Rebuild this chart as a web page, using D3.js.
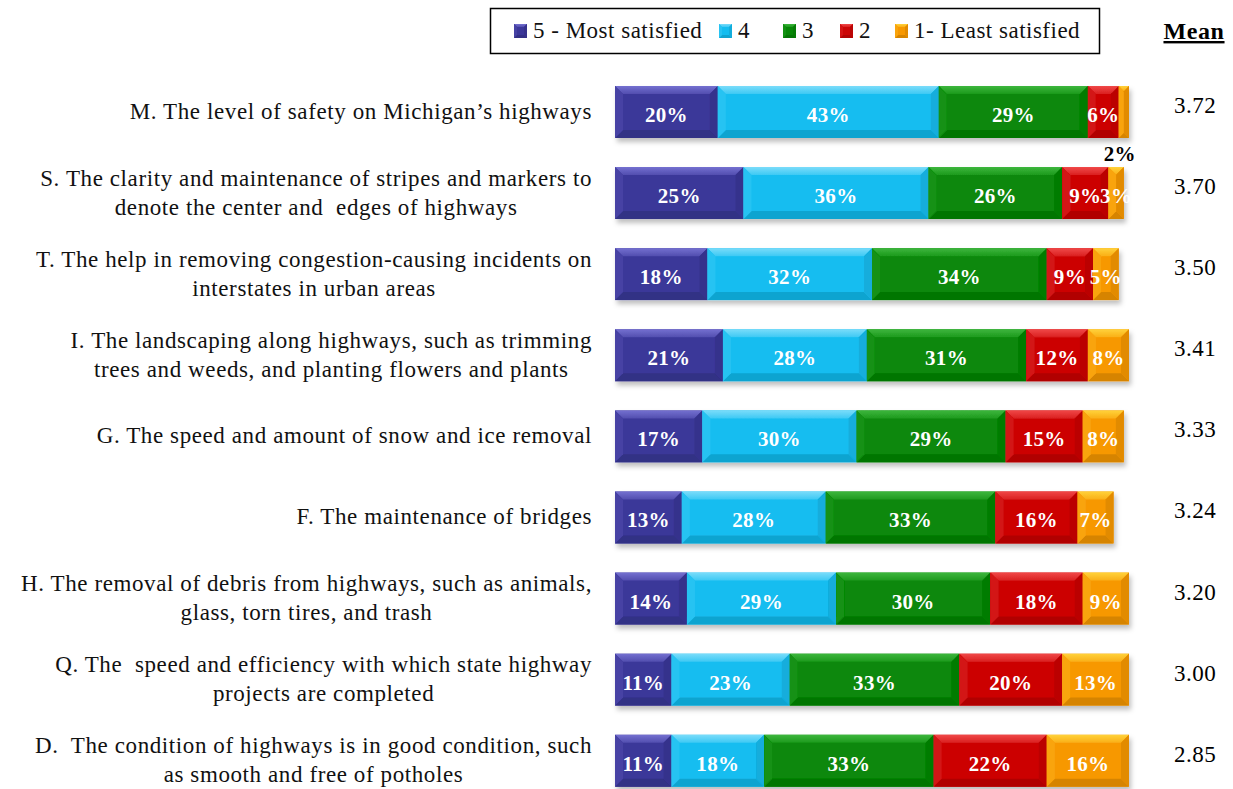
<!DOCTYPE html>
<html>
<head>
<meta charset="utf-8">
<script src="https://cdn.jsdelivr.net/npm/d3@7"></script>
<style>
  body { margin: 0; background: #ffffff; }
  svg { display: block; }
</style>
</head>
<body>
<svg id="chart" width="1233" height="789"></svg>
<script>
// Survey items (line breaks mark where each label wraps)
const categories = [
  "M. The level of safety on Michigan\u2019s highways",
  "S. The clarity and maintenance of stripes and markers to\ndenote the center and  edges of highways",
  "T. The help in removing congestion-causing incidents on\ninterstates in urban areas",
  "I. The landscaping along highways, such as trimming\ntrees and weeds, and planting flowers and plants",
  "G. The speed and amount of snow and ice removal",
  "F. The maintenance of bridges",
  "H. The removal of debris from highways, such as animals,\nglass, torn tires, and trash",
  "Q. The  speed and efficiency with which state highway\nprojects are completed",
  "D.  The condition of highways is in good condition, such\nas smooth and free of potholes"
];

// Percent of respondents at each satisfaction level
const mostSatisfied5  = [20, 25, 18, 21, 17, 13, 14, 11, 11];
const level4          = [43, 36, 32, 28, 30, 28, 29, 23, 18];
const level3          = [29, 26, 34, 31, 29, 33, 30, 33, 33];
const level2          = [ 6,  9,  9, 12, 15, 16, 18, 20, 22];
const leastSatisfied1 = [ 2,  3,  5,  8,  8,  7,  9, 13, 16];

const means = ["3.72", "3.70", "3.50", "3.41", "3.33", "3.24", "3.20", "3.00", "2.85"];

const seriesNames = ["5 - Most satisfied", "4", "3", "2", "1- Least satisfied"];
const seriesValues = [mostSatisfied5, level4, level3, level2, leastSatisfied1];
const seriesColors = ["#3b3799", "#14bdf0", "#078807", "#cc0606", "#f79800"];
const seriesTopColors = ["#7470d0", "#7adcfa", "#3db63d", "#f04848", "#ffd23a"];

const svg = d3.select("#chart");
const serif = "'Liberation Serif', 'DejaVu Serif', serif";

// Build per-row stacks
const rows = categories.map((c, i) => {
  let acc = 0;
  const segs = seriesValues.map((vals, k) => {
    const s = { k, v: vals[i], x0: acc, x1: acc + vals[i] };
    acc += vals[i];
    return s;
  });
  return { cat: c, i, segs };
});

const x = d3.scaleLinear().domain([0, 100]).range([615, 1129]);
const y = d3.scaleBand().domain(categories).range([71.4, 801.3])
  .paddingInner(0.36).paddingOuter(0.18);

// Drop shadow for the bars
const defs = svg.append("defs");
const f = defs.append("filter").attr("id", "shadow")
  .attr("x", "-5%").attr("y", "-20%").attr("width", "110%").attr("height", "150%");
f.append("feDropShadow").attr("dx", 2).attr("dy", 4).attr("stdDeviation", 2.5)
  .attr("flood-color", "#000").attr("flood-opacity", 0.25);

seriesColors.forEach((c, k) => {
  const g = defs.append("linearGradient").attr("id", "top" + k)
    .attr("x1", 0).attr("y1", 0).attr("x2", 0).attr("y2", 1);
  g.append("stop").attr("offset", 0).attr("stop-color", seriesTopColors[k]);
  g.append("stop").attr("offset", 1).attr("stop-color", d3.interpolateRgb(seriesTopColors[k], c)(0.6));
});

// Draws one beveled block
function bevelBlock(sel, x0, y0, x1, y1, k, bev) {
  const base = seriesColors[k];
  const w = x1 - x0, h = y1 - y0;
  const b = Math.min(bev, w / 2, h / 2);
  sel.append("rect").attr("x", x0).attr("y", y0).attr("width", w).attr("height", h).attr("fill", base);
  const poly = (pts, fill) => sel.append("polygon")
    .attr("points", pts.map(p => p.join(",")).join(" ")).attr("fill", fill);
  poly([[x0, y0], [x1, y0], [x1 - b, y0 + b], [x0 + b, y0 + b]], `url(#top${k})`);
  poly([[x0, y1], [x1, y1], [x1 - b, y1 - b], [x0 + b, y1 - b]], d3.color(base).darker(0.4));
  poly([[x0, y0], [x0 + b, y0 + b], [x0 + b, y1 - b], [x0, y1]], d3.interpolateRgb(base, seriesTopColors[k])(0.2));
  poly([[x1, y0], [x1 - b, y0 + b], [x1 - b, y1 - b], [x1, y1]], d3.color(base).darker(0.25));
}

// Bars
const barG = svg.append("g");
rows.forEach(r => {
  const g = barG.append("g").attr("filter", "url(#shadow)");
  const y0 = y(r.cat), y1 = y0 + y.bandwidth();
  r.segs.forEach(s => {
    bevelBlock(g, x(s.x0), y0, x(s.x1), y1, s.k, 8);
  });
});

// Value labels
const labG = svg.append("g").attr("font-family", serif).attr("font-weight", "bold")
  .attr("font-size", 21).attr("letter-spacing", 0.3).attr("text-anchor", "middle");
rows.forEach(r => {
  const cy = y(r.cat) + y.bandwidth() / 2;
  r.segs.forEach(s => {
    const cx = (x(s.x0) + x(s.x1)) / 2;
    const narrow = (x(s.x1) - x(s.x0)) < 14;
    labG.append("text")
      .attr("x", narrow ? cx - 4 : cx)
      .attr("y", narrow ? y(r.cat) + y.bandwidth() + 23 : cy + 10)
      .attr("fill", narrow ? "#000" : "#fff")
      .text(s.v + "%");
  });
});

// Category labels: multi-line labels are centered, block right-aligned
const catG = svg.append("g").attr("font-family", serif).attr("font-size", 23)
  .attr("letter-spacing", 0.6).attr("fill", "#111");
rows.forEach(r => {
  const lines = r.cat.split("\n");
  const cy = y(r.cat) + y.bandwidth() / 2;
  const lh = 29;
  const t = catG.append("text").attr("text-anchor", "middle").attr("xml:space", "preserve");
  lines.forEach((ln, j) => {
    t.append("tspan").attr("x", 0).attr("y", cy + 7 + (j - (lines.length - 1) / 2) * lh).text(ln);
  });
  const maxW = d3.max(t.selectAll("tspan").nodes(), n => n.getComputedTextLength());
  t.selectAll("tspan").attr("x", 592 - maxW / 2);
});

// Mean column
svg.append("text").attr("x", 1194).attr("y", 39).attr("text-anchor", "middle")
  .attr("font-family", serif).attr("font-size", 24).attr("font-weight", "bold")
  .attr("letter-spacing", 0.6).attr("text-decoration", "underline").text("Mean");
svg.append("g").selectAll("text").data(rows).join("text")
  .attr("x", 1195).attr("y", d => y(d.cat) + y.bandwidth() / 2 + 1)
  .attr("text-anchor", "middle").attr("font-family", serif).attr("font-size", 23)
  .attr("letter-spacing", 0.5).text(d => means[d.i]);

// Legend
const leg = svg.append("g");
leg.append("rect").attr("x", 490.5).attr("y", 8.5).attr("width", 609).attr("height", 45)
  .attr("fill", "#fff").attr("stroke", "#000").attr("stroke-width", 1.5);
const legX = [514, 719, 783, 840, 895];
seriesNames.forEach((n, k) => {
  const g = leg.append("g");
  bevelBlock(g, legX[k], 24, legX[k] + 13, 38, k, 3);
  leg.append("text").attr("x", legX[k] + 19).attr("y", 38)
    .attr("font-family", serif).attr("font-size", 23).attr("letter-spacing", 0.5)
    .attr("fill", "#111").text(n);
});
</script>
</body>
</html>
